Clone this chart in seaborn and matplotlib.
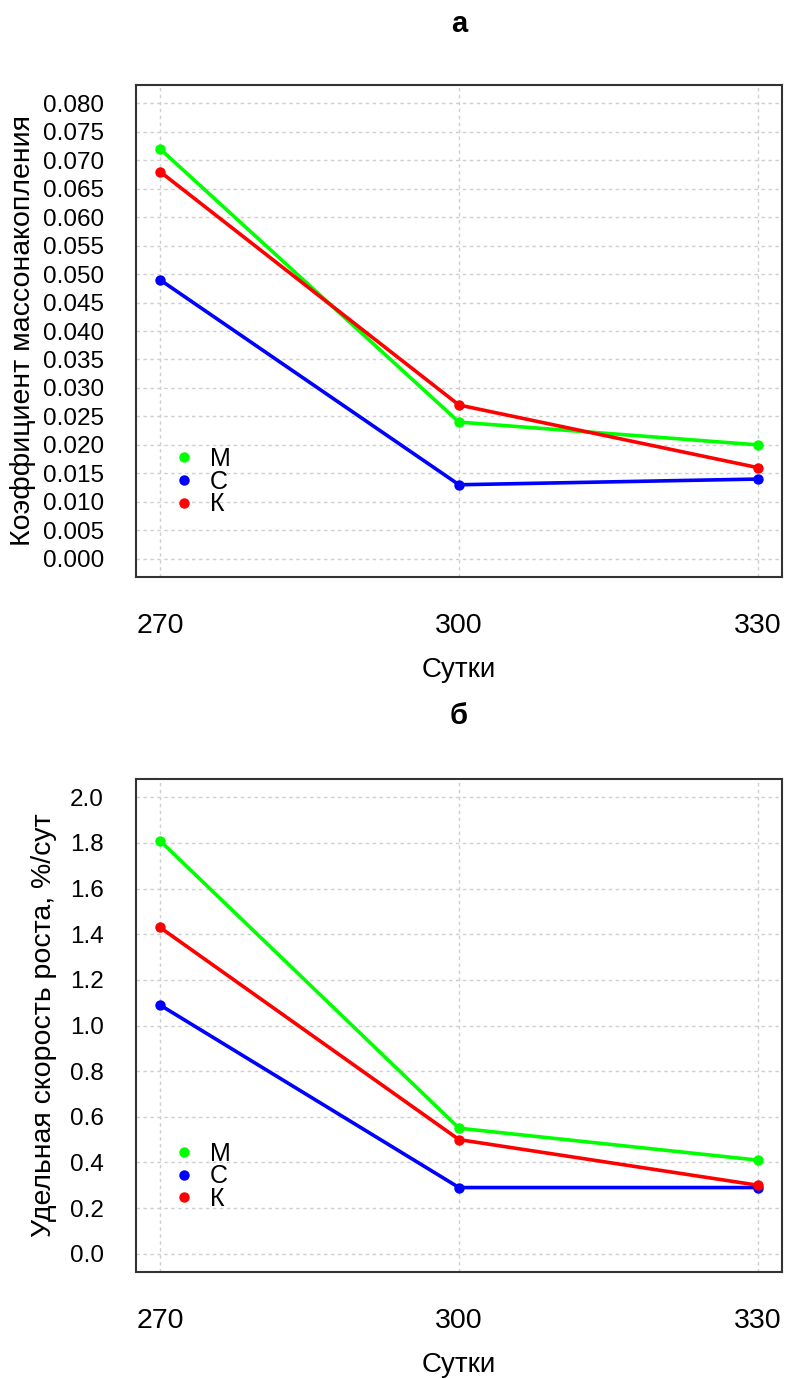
import matplotlib
matplotlib.use('Agg')
import matplotlib.pyplot as plt
from matplotlib.lines import Line2D
import pandas as pd
import seaborn as sns

days = [270, 300, 330]
groups = ['М', 'С', 'К']
colors = ['#00ff00', '#0000ff', '#ff0000']

# коэффициент массонакопления
mass_m = [0.072, 0.024, 0.020]
mass_c = [0.049, 0.013, 0.014]
mass_k = [0.068, 0.027, 0.016]

# удельная скорость роста, %/сут
rate_m = [1.81, 0.55, 0.41]
rate_c = [1.09, 0.29, 0.29]
rate_k = [1.43, 0.50, 0.30]

mass_ticks = [i * 0.005 for i in range(17)]
rate_ticks = [0.0, 0.2, 0.4, 0.6, 0.8, 1.0, 1.2, 1.4, 1.6, 1.8, 2.0]


def makeFrame(series):
    rows = []
    for g, vals in zip(groups, series):
        for d, v in zip(days, vals):
            rows.append({'day': d, 'group': g, 'value': v})
    return pd.DataFrame(rows)


sns.set_theme(style='white')
plt.rcParams['font.family'] = ['Liberation Sans', 'DejaVu Sans']
plt.rcParams['text.color'] = 'black'
plt.rcParams['axes.labelcolor'] = 'black'

W, H = 785, 1379
fig = plt.figure(figsize=(W / 100, H / 100), dpi=100)


def drawPanel(rect, df, ticks, fmt, ylabel, ylabel_x, title, title_y):
    ax = fig.add_axes(rect)
    sns.lineplot(data=df, x='day', y='value', hue='group', hue_order=groups,
                 palette=colors, marker='o', markersize=7.5, markeredgewidth=0,
                 linewidth=2.6, legend=False, ax=ax)
    ax.set_xlim(267.6, 332.4)
    span = ticks[-1] - ticks[0]
    ax.set_ylim(ticks[0] - 0.04 * span, ticks[-1] + 0.04 * span)
    ax.set_xticks(days)
    ax.set_xticklabels([str(d) for d in days])
    ax.set_yticks(ticks)
    ax.set_yticklabels([fmt.format(t) for t in ticks])
    ax.grid(True, color='#cfcfcf', linestyle=(0, (2.5, 2.5)), linewidth=1)
    ax.tick_params(axis='y', direction='in', length=7, width=1.3, pad=23,
                   labelsize=17.5, colors='#222222', labelcolor='black')
    ax.tick_params(axis='x', direction='in', length=7, width=1.3, pad=26,
                   labelsize=20.5, colors='#222222', labelcolor='black')
    for s in ax.spines.values():
        s.set_color('#333333')
        s.set_linewidth(1.5)
    ax.set_xlabel('Сутки', fontsize=20)
    ax.xaxis.set_label_coords(0.5, -0.162)
    ax.set_ylabel(ylabel, fontsize=20.5)
    ax.yaxis.set_label_coords(ylabel_x, 0.5)
    handles = [Line2D([], [], linestyle='none', marker='o', markersize=7.5,
                      markeredgewidth=0, color=c) for c in colors]
    ax.legend(handles, groups, loc='center left', bbox_to_anchor=(0.039, 0.194),
              frameon=False, fontsize=18, handletextpad=0.55, labelspacing=-0.05,
              handlelength=1.0, borderaxespad=0)
    fig.text(rect[0] + rect[2] / 2, title_y, title, ha='center', va='center',
             fontsize=21, fontweight='bold')
    return ax


drawPanel([136 / W, (H - 577) / H, 646 / W, 492 / H], makeFrame([mass_m, mass_c, mass_k]),
          mass_ticks, '{:.3f}', 'Коэффициент массонакопления', -0.155, 'а', (H - 24) / H)
drawPanel([136 / W, (H - 1272) / H, 646 / W, 493 / H], makeFrame([rate_m, rate_c, rate_k]),
          rate_ticks, '{:.1f}', 'Удельная скорость роста, %/сут', -0.122, 'б', (H - 716) / H)

fig.savefig('out.png', dpi=100)
